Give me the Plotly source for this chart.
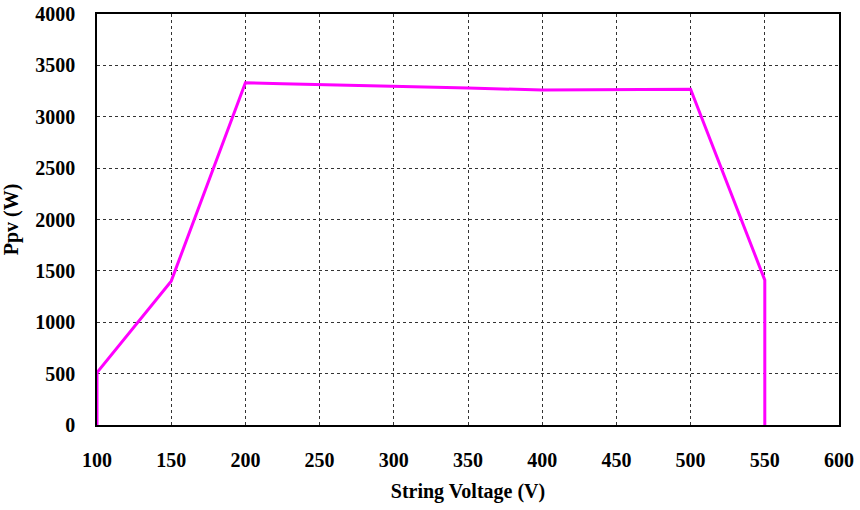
import plotly.graph_objects as go

voltage = [100, 100, 150, 200, 225, 250, 275, 300, 350, 400, 450, 500, 550, 550]
power = [0, 510, 1400, 3330, 3322, 3315, 3302, 3295, 3280, 3260, 3265, 3268, 1410, 0]

x_ticks = [100, 150, 200, 250, 300, 350, 400, 450, 500, 550, 600]
y_ticks = [0, 500, 1000, 1500, 2000, 2500, 3000, 3500, 4000]

font_family = "Liberation Serif"

fig = go.Figure()
fig.add_trace(go.Scatter(x=voltage, y=power, mode="lines",
                         line=dict(color="#FF00FF", width=3), showlegend=False))

axis_common = dict(
    showgrid=True, gridcolor="#333333", griddash="dot", gridwidth=1,
    showline=True, linecolor="black", linewidth=1.5, mirror=True,
    zeroline=False, ticks="", automargin=False,
    tickfont=dict(family=font_family, size=20, color="black", weight="bold"),
)

fig.update_layout(
    width=860, height=510,
    margin=dict(l=97, r=21, t=14, b=85),
    paper_bgcolor="white", plot_bgcolor="white",
    xaxis=dict(range=[100, 600], tickvals=x_ticks, ticklabelstandoff=16,
               title=dict(text="<b>String Voltage (V)</b>", standoff=14,
                          font=dict(family=font_family, size=20, color="black")),
               **axis_common),
    yaxis=dict(range=[0, 4000], tickvals=y_ticks, ticklabelstandoff=16,
               title=dict(text="<b>Ppv (W)</b>", standoff=14,
                          font=dict(family=font_family, size=20, color="black")),
               **axis_common),
)

fig.write_html("out.html")
